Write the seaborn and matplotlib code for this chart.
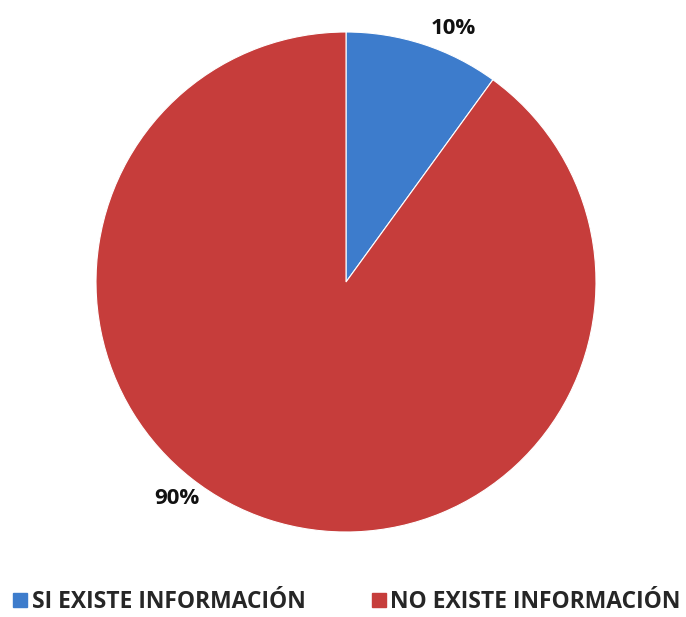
import numpy as np
import matplotlib
matplotlib.use("Agg")
import matplotlib.pyplot as plt
import seaborn as sns

categories = ["SI EXISTE INFORMACIÓN", "NO EXISTE INFORMACIÓN"]
values = [10, 90]
pct_labels = ["10%", "90%"]
colors = ["#3d7ccc", "#c63d3b"]

sns.set_style("white")
plt.rcParams['font.family'] = ['Open Sans', 'DejaVu Sans']

fig = plt.figure(figsize=[6.86, 6.17], dpi=100)
ax = fig.add_axes([96/686, 85/617, 500/686, 500/617])

wedges, _ = ax.pie(values, colors=colors, startangle=90, counterclock=False,
                   radius=1, wedgeprops={"linewidth": 0.8, "edgecolor": "#ffffff"})
ax.set_xlim(-1, 1)
ax.set_ylim(-1, 1)
ax.set_aspect('equal')
ax.axis('off')

# label positions: 10% near the slice, 90% on the lower left
label_angles = [67, -128]
for txt, ang in zip(pct_labels, label_angles):
    r = 1.1
    ax.text(r*np.cos(np.radians(ang)), r*np.sin(np.radians(ang)), txt,
            ha='center', va='center', fontsize=16, fontweight='bold', color='#111111')

handles = [plt.Rectangle((0, 0), 1, 1, color=c) for c in colors]
fig.legend(handles, categories, loc='center', bbox_to_anchor=(0.5 + 4/686, 15/617), ncol=2,
           frameon=False, prop={'weight': 'bold', 'size': 16.5},
           handlelength=0.6, handleheight=0.6, handletextpad=0.2, columnspacing=2.9,
           borderpad=0.1)

fig.savefig('out.png', dpi=100)
